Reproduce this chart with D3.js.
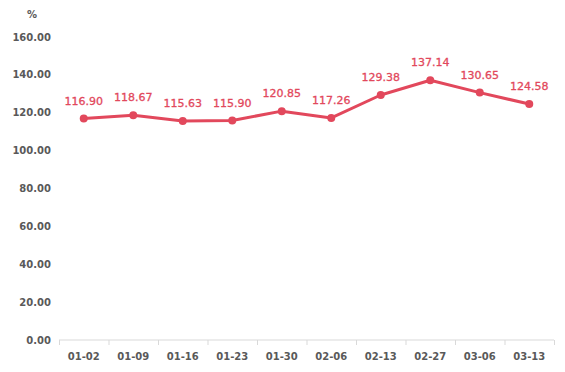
<!DOCTYPE html>
<html>
<head>
<meta charset="utf-8">
<script src="https://cdn.jsdelivr.net/npm/d3@7"></script>
<style>
  body { margin: 0; background: #fff; }
  svg { display: block; }
</style>
</head>
<body>
<svg id="chart" width="565" height="372"></svg>
<script>
// data
const dates = ["01-02", "01-09", "01-16", "01-23", "01-30", "02-06", "02-13", "02-27", "03-06", "03-13"];
const values = [116.90, 118.67, 115.63, 115.90, 120.85, 117.26, 129.38, 137.14, 130.65, 124.58];
const yTicks = [0, 20, 40, 60, 80, 100, 120, 140, 160];

const svg = d3.select("#chart");
const margin = {top: 37, right: 11, bottom: 32, left: 59};
const width = 565, height = 372;

const x = d3.scaleBand().domain(dates).range([margin.left, width - margin.right]);
const y = d3.scaleLinear().domain([0, 160]).range([height - margin.bottom, margin.top]);

const axisColor = "#595959";
const lineColor = "#e2485c";
const font = "Verdana, 'DejaVu Sans', sans-serif";

// y labels (no axis line)
svg.append("g")
  .selectAll("text")
  .data(yTicks)
  .join("text")
  .attr("x", 51)
  .attr("y", d => y(d))
  .attr("dy", "0.35em")
  .attr("text-anchor", "end")
  .attr("font-family", font)
  .attr("font-size", 10)
  .attr("font-weight", "bold")
  .attr("fill", axisColor)
  .text(d => d.toFixed(2));

svg.append("text")
  .attr("x", 32)
  .attr("y", 18)
  .attr("text-anchor", "middle")
  .attr("font-family", font)
  .attr("font-size", 10)
  .attr("font-weight", "bold")
  .attr("fill", axisColor)
  .text("%");

// x axis with ticks between categories
const xg = svg.append("g").attr("transform", `translate(0,${y(0)})`);
xg.append("line")
  .attr("x1", x.range()[0]).attr("x2", x.range()[1])
  .attr("stroke", "#d9d9d9");
xg.selectAll(".tk")
  .data(dates.map(d => x(d)).concat([x.range()[1]]))
  .join("line")
  .attr("x1", d => d + 0.5).attr("x2", d => d + 0.5)
  .attr("y1", 0).attr("y2", 5)
  .attr("stroke", "#d9d9d9");
xg.selectAll("text")
  .data(dates)
  .join("text")
  .attr("x", d => x(d) + x.bandwidth() / 2)
  .attr("y", 20)
  .attr("text-anchor", "middle")
  .attr("font-family", font)
  .attr("font-size", 10)
  .attr("font-weight", "bold")
  .attr("fill", axisColor)
  .text(d => d);

const pts = dates.map((d, i) => ({d, v: values[i]}));
const cx = p => x(p.d) + x.bandwidth() / 2;

svg.append("path")
  .datum(pts)
  .attr("fill", "none")
  .attr("stroke", lineColor)
  .attr("stroke-width", 3)
  .attr("stroke-linejoin", "round")
  .attr("d", d3.line().x(cx).y(p => y(p.v)));

svg.selectAll(".dot")
  .data(pts)
  .join("circle")
  .attr("cx", cx)
  .attr("cy", p => y(p.v))
  .attr("r", 4)
  .attr("fill", lineColor);

svg.selectAll(".lbl")
  .data(pts)
  .join("text")
  .attr("x", cx)
  .attr("y", p => y(p.v) - 14)
  .attr("text-anchor", "middle")
  .attr("font-family", font)
  .attr("font-size", 11)
  .attr("fill", lineColor)
  .attr("stroke", lineColor)
  .attr("stroke-width", 0.3)
  .text(p => p.v.toFixed(2));
</script>
</body>
</html>
